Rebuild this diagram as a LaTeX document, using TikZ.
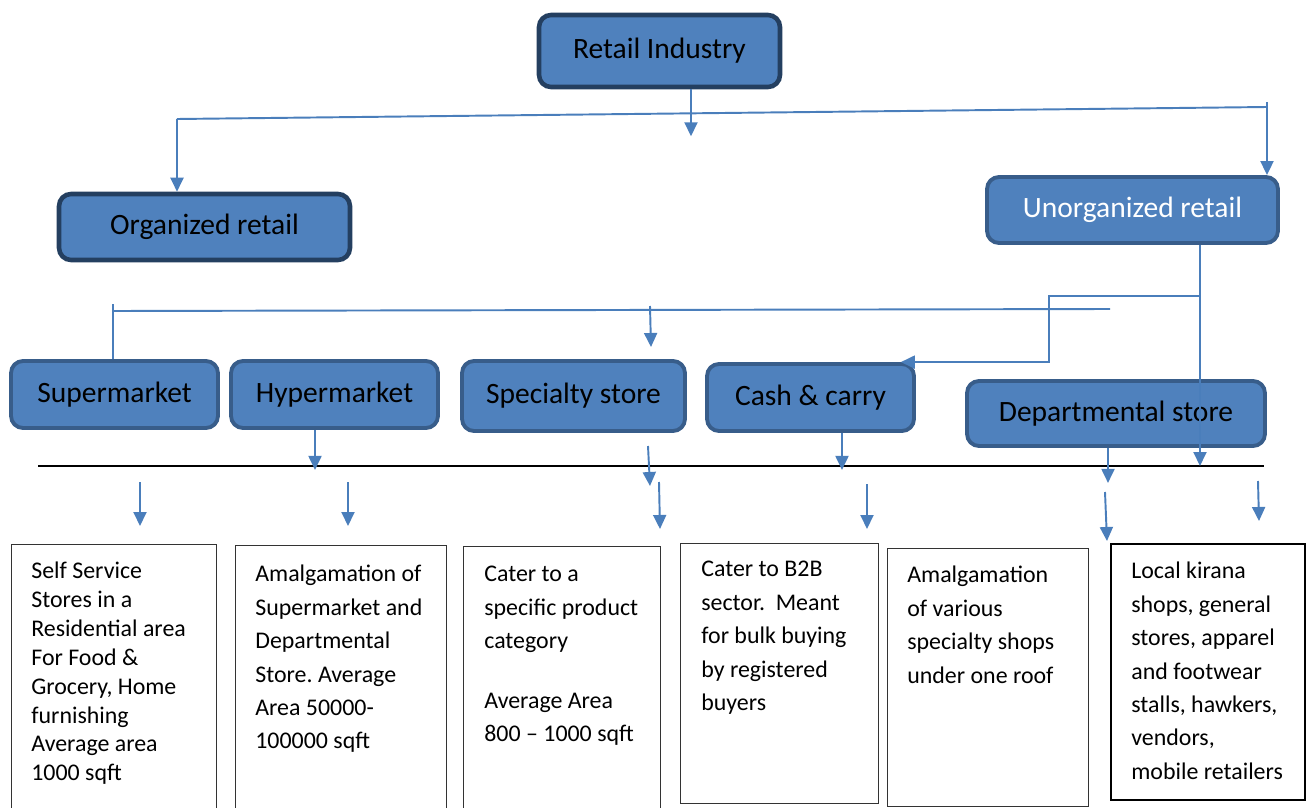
\documentclass[tikz,border=0pt]{standalone}
\usepackage{fontspec}
\setmainfont{Carlito}
\usetikzlibrary{arrows.meta,positioning}
\definecolor{boxblue}{HTML}{4F81BD}
\definecolor{boxedge}{HTML}{385D8A}
\definecolor{boxedgedark}{HTML}{243F60}
\definecolor{linkblue}{HTML}{4A7EBB}
\tikzset{
      catbox/.style={
        rounded corners=0.24cm,
        draw=boxedge,
        line width=2.2pt,
        fill=boxblue,
        inner sep=0pt,
        font=\fontsize{16.8}{20}\selectfont
      },
      topbox/.style={catbox, draw=boxedgedark, line width=2.6pt},
      descbox/.style={draw=black!80, line width=0.8pt, inner sep=0pt, anchor=north west},
      desctext/.style={align=left, inner sep=0pt, anchor=north west, font=\fontsize{13.6}{19}\selectfont},
      link/.style={draw=linkblue, line width=1.1pt},
      linkarrow/.style={link, -{Triangle[length=0.28cm,width=0.26cm]}}
    }
\frenchspacing
\begin{document}
\begin{tikzpicture}[x=0.02cm,y=-0.02cm]
    \useasboundingbox (0,0) rectangle (1306,808);
    \clip (0,0) rectangle (1306,808);
    % category boxes
    \node[topbox, minimum width=4.82cm, minimum height=1.44cm] (ri) at (659.5,51) {Retail Industry};
    \node[topbox, minimum width=5.82cm, minimum height=1.32cm] (org) at (204.5,227) {Organized retail};
    \node[catbox, minimum width=5.82cm, minimum height=1.32cm, text=white] (unorg) at (1132.5,210) {Unorganized retail};
    \node[catbox, minimum width=4.14cm, minimum height=1.34cm] (sup) at (114.5,394.5) {Supermarket};
    \node[catbox, minimum width=4.14cm, minimum height=1.34cm] (hyp) at (334.5,394.5) {Hypermarket};
    \node[catbox, minimum width=4.46cm, minimum height=1.40cm] (spec) at (573.5,396) {Specialty store};
    \node[catbox, minimum width=4.14cm, minimum height=1.34cm] (cash) at (810.5,397.5) {Cash \& carry};
    \node[catbox, minimum width=5.96cm, minimum height=1.30cm] (dept) at (1116,413.5) {Departmental store};
    % description boxes
    \node[descbox, minimum width=4.10cm, minimum height=5.8cm] (d1) at (11,544) {};
    \node[descbox, minimum width=4.22cm, minimum height=5.8cm] (d2) at (235,545) {};
    \node[descbox, minimum width=3.94cm, minimum height=5.8cm] (d3) at (463,546) {};
    \node[descbox, minimum width=3.96cm, minimum height=5.20cm] (d4) at (680,543) {};
    \node[descbox, minimum width=4.02cm, minimum height=5.16cm] (d5) at (887,548) {};
    \node[descbox, minimum width=3.88cm, minimum height=5.12cm, line width=1pt, draw=black] (d6) at (1110,543) {};
    \node[desctext, font=\fontsize{13.6}{16.4}\selectfont, below right=0.36cm and 0.4cm of d1.north west] (t1) {Self Service\\Stores in a\\Residential area\\For Food \&\\Grocery, Home\\furnishing\\Average area\\1000 sqft};
    \node[desctext, below right=0.40cm and 0.4cm of d2.north west] (t2) {Amalgamation of\\Supermarket and\\Departmental\\Store. Average\\Area 50000-\\100000 sqft};
    \node[desctext, below right=0.40cm and 0.42cm of d3.north west] (t3) {Cater to a\\specific product\\category\\[0.52cm]Average Area\\800 -- 1000 sqft};
    \node[desctext, below right=0.36cm and 0.42cm of d4.north west] (t4) {Cater to B2B\\sector.\ \ Meant\\for bulk buying\\by registered\\buyers};
    \node[desctext, below right=0.36cm and 0.4cm of d5.north west] (t5) {Amalgamation\\of various\\specialty shops\\under one roof};
    \node[desctext, below right=0.38cm and 0.42cm of d6.north west] (t6) {Local kirana\\shops, general\\stores, apparel\\and footwear\\stalls, hawkers,\\vendors,\\mobile retailers};
    % connectors
    \coordinate (barL) at (177,119);
    \coordinate (barR) at (1267,107);
    \coordinate (barRtop) at (1267,102);
    \draw[linkarrow] ([xshift=0.63cm]ri.south) -- ++(0,47);
    \draw[link] (barL) -- (barR);
    \draw[linkarrow] (barL) -- (barL |- org.north);
    \draw[linkarrow] (barRtop) -- (barRtop |- unorg.north);
    \coordinate (baseL) at (38,466);
    \coordinate (baseR) at (1264,466);
    \draw[line width=1pt] (baseL) -- (baseR);
    \coordinate (fork) at (1200,296);
    \draw[linkarrow] ([xshift=1.35cm]unorg.south) -- ([xshift=1.35cm]unorg.south |- baseL);
    \draw[linkarrow] (fork) -- ++(-151,0) |- ([xshift=-0.3cm]cash.north east);
    \coordinate (bar2L) at (113,311);
    \coordinate (bar2R) at (1110,309);
    \draw[link] (bar2L) -- (bar2R);
    \draw[link] (sup.north -| bar2L) -- ++(0,-55);
    \coordinate (specA) at (650,306);
    \coordinate (specB) at (651,347);
    \draw[linkarrow] (specA) -- (specB);
    \draw[linkarrow] ([xshift=-0.39cm]hyp.south) -- ++(0,40);
    \draw[linkarrow] ([xshift=0.63cm]cash.south) -- ++(0,37);
    \draw[linkarrow] ([xshift=-0.16cm]dept.south) -- ++(0,35);
    \foreach \xa/\ya/\xb/\yb [count=\i] in {648/446/650/486, 140/482/140/526, 348/482/348/526, 659/482/660/529, 867/484/867/529, 1105/492/1107/541, 1258/481/1259/521}
    {
      \coordinate (fa\i) at (\xa,\ya);
      \coordinate (fb\i) at (\xb,\yb);
      \draw[linkarrow] (fa\i) -- (fb\i);
    }
\end{tikzpicture}
\end{document}
